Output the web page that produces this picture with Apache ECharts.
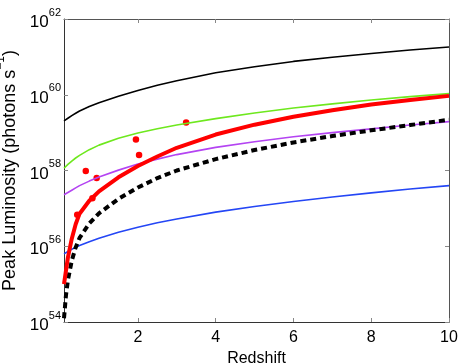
<!DOCTYPE html>
<html>
<head>
<meta charset="utf-8">
<script src="https://cdn.jsdelivr.net/npm/echarts@6/dist/echarts.min.js"></script>
<style>
  html, body { margin: 0; padding: 0; background: #fff; }
  #main { width: 463px; height: 364px; }
</style>
</head>
<body>
<div id="main"></div>
<script>
// redshift grid shared by all curves
var redshift = [0.1, 0.15, 0.2, 0.3, 0.4, 0.5, 0.75, 1, 1.5, 2, 2.5, 3, 4, 5, 6, 7, 8, 9, 10];

// log10 of peak luminosity (photons s^-1)
var blackSolid = [59.31, 59.34, 59.38, 59.45, 59.51, 59.57, 59.69, 59.79, 59.96, 60.11, 60.25, 60.37, 60.58, 60.74, 60.88, 60.99, 61.09, 61.18, 61.26];
var greenLine  = [58.06, 58.11, 58.16, 58.25, 58.33, 58.4, 58.55, 58.67, 58.85, 58.99, 59.1, 59.2, 59.37, 59.52, 59.65, 59.76, 59.86, 59.95, 60.03];
var purpleLine = [57.36, 57.39, 57.42, 57.48, 57.54, 57.6, 57.72, 57.83, 58.01, 58.17, 58.3, 58.42, 58.61, 58.76, 58.89, 59.0, 59.1, 59.2, 59.29];
var blueLine   = [55.8, 55.83, 55.86, 55.92, 55.97, 56.02, 56.12, 56.21, 56.37, 56.5, 56.62, 56.72, 56.9, 57.05, 57.18, 57.3, 57.41, 57.51, 57.6];
var blackDash  = [54.1, 54.7, 55.1, 55.62, 55.97, 56.22, 56.6, 56.87, 57.25, 57.55, 57.8, 58.0, 58.3, 58.54, 58.74, 58.91, 59.06, 59.2, 59.34];
var redThick   = [55.0, 55.35, 55.7, 56.2, 56.58, 56.86, 57.2, 57.45, 57.82, 58.12, 58.37, 58.6, 58.95, 59.21, 59.42, 59.59, 59.74, 59.86, 59.97];

// observed points
var obsRedshift = [0.44, 0.66, 0.83, 0.94, 1.95, 2.03, 3.24];
var obsLum      = [56.83, 57.99, 57.27, 57.80, 58.82, 58.41, 59.27];

// tick labels
var xTicks = [2, 4, 6, 8, 10];

function pairs(xs, ys) {
    return xs.map(function (x, i) { return [x, ys[i]]; });
}

function curve(data, color, width, dash) {
    return {
        type: 'line',
        data: pairs(redshift, data),
        showSymbol: false,
        smooth: false,
        lineStyle: { color: color, width: width, type: dash || 'solid', cap: 'butt', join: 'round' },
        silent: true,
        animation: false
    };
}

var chart = echarts.init(document.getElementById('main'));
var font = 'Liberation Sans, Helvetica, Arial, sans-serif';

var option = {
    animation: false,
    grid: { left: 64, right: 14, top: 19, bottom: 42, containLabel: false, outerBoundsMode: 'none' },
    xAxis: [
        {
            type: 'value',
            min: 0.1,
            max: 10,
            name: 'Redshift',
            nameLocation: 'middle',
            nameGap: 24,
            nameTextStyle: { fontSize: 16, color: '#000', fontFamily: font },
            axisLine: { lineStyle: { color: '#333' } },
            axisTick: { inside: true, length: 4, lineStyle: { color: '#888' }, customValues: xTicks },
            axisLabel: { fontSize: 16, color: '#000', fontFamily: font, margin: 8, customValues: xTicks },
            splitLine: { show: false }
        },
        {
            type: 'value',
            position: 'top',
            min: 0.1,
            max: 10,
            axisLine: { show: true, lineStyle: { color: '#555' } },
            axisTick: { inside: true, length: 4, lineStyle: { color: '#888' }, customValues: xTicks },
            axisLabel: { show: false },
            splitLine: { show: false }
        }
    ],
    yAxis: [
        {
            type: 'value',
            min: 54,
            max: 62,
            interval: 2,
            name: '{n|Peak Luminosity (photons s}{e|−1}{n|)}',
            nameLocation: 'middle',
            nameGap: 37,
            nameTextStyle: {
                fontFamily: font,
                color: '#000',
                rich: {
                    n: { fontSize: 18, lineHeight: 24, verticalAlign: 'bottom', fontFamily: font, color: '#000' },
                    e: { fontSize: 12, lineHeight: 12, verticalAlign: 'top', fontFamily: font, color: '#000' }
                }
            },
            axisLine: { show: true, lineStyle: { color: '#333' } },
            axisTick: { inside: true, length: 4, lineStyle: { color: '#888' } },
            axisLabel: {
                margin: 3,
                formatter: function (v) { return '{b|10}{e|' + v + '}'; },
                rich: {
                    b: { fontSize: 17, lineHeight: 24, verticalAlign: 'bottom', fontFamily: font, color: '#000' },
                    e: { fontSize: 11, lineHeight: 11, verticalAlign: 'top', fontFamily: font, color: '#000' }
                }
            },
            splitLine: { show: false }
        },
        {
            type: 'value',
            position: 'right',
            min: 54,
            max: 62,
            interval: 2,
            axisLine: { show: true, lineStyle: { color: '#555' } },
            axisTick: { inside: true, length: 4, lineStyle: { color: '#888' } },
            axisLabel: { show: false },
            splitLine: { show: false }
        }
    ],
    series: [
        curve(blackSolid, '#000000', 1.6),
        curve(greenLine, '#6ee81e', 1.6),
        curve(purpleLine, '#b444f2', 1.6),
        curve(blueLine, '#2446f5', 1.6),
        curve(blackDash, '#000000', 4, [6, 4]),
        curve(redThick, '#ff0000', 4),
        {
            type: 'scatter',
            data: pairs(obsRedshift, obsLum),
            symbol: 'circle',
            symbolSize: 6.5,
            itemStyle: { color: '#ff0000', opacity: 1 },
            silent: true
        }
    ]
};

chart.setOption(option);
</script>
</body>
</html>
